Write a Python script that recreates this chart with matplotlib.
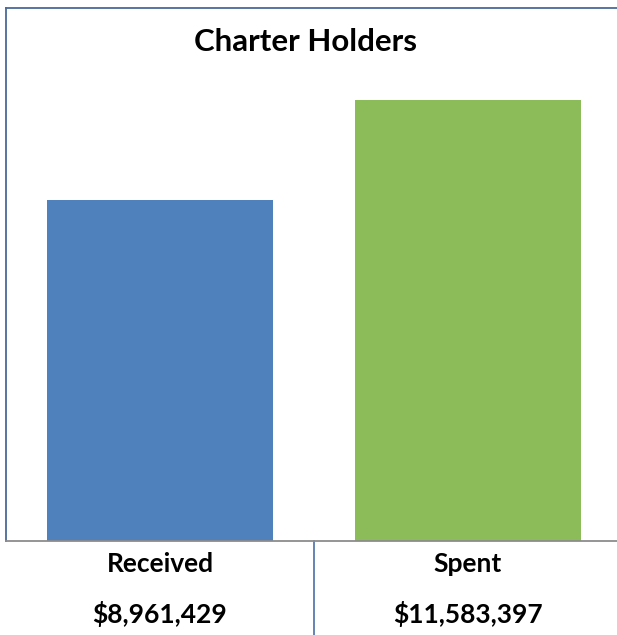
import matplotlib.pyplot as plt
import matplotlib.transforms as mtransforms

categories = ["Received", "Spent"]
amounts = [8961429, 11583397]
amount_labels = ["$8,961,429", "$11,583,397"]
bar_colors = ["#4F81BD", "#8CBB5A"]

plt.rcParams['font.family'] = ['Lato', 'DejaVu Sans']

fig = plt.figure(figsize=(6.17, 6.35), dpi=100)
W, H = 617, 635
# axes box in pixels: left 6, right 622, top 8, bottom 541
ax = fig.add_axes([6 / W, (H - 541) / H, 616 / W, (541 - 8) / H])

x = list(range(len(categories)))
ax.bar(x, amounts, width=0.735, color=bar_colors, zorder=2)
ax.set_xlim(-0.5, 1.5)
ax.set_ylim(0, 14000000)

ax.set_xticks([])
ax.set_yticks([])
ax.spines["right"].set_visible(False)
ax.spines["left"].set_color("#4A6A9A")
ax.spines["top"].set_color("#4A6A9A")
ax.spines["left"].set_linewidth(1.3)
ax.spines["top"].set_linewidth(1.3)
ax.spines["bottom"].set_color("#8C8C8C")
ax.spines["bottom"].set_linewidth(1.3)

ax.text(0.487, 0.937, "Charter Holders", transform=ax.transAxes,
        ha="center", va="center", fontsize=22.5, fontweight="bold")

trans = mtransforms.blended_transform_factory(ax.transData, ax.transAxes)
# divider between categories below the axis
ax.plot([0.5, 0.5], [0, -100 / 533], transform=trans, color="#4A6FA8",
        lw=1.2, clip_on=False)
for i, (cat, lab) in enumerate(zip(categories, amount_labels)):
    ax.text(i, -(564 - 541) / 533, cat, transform=trans, ha="center",
            va="center", fontsize=19, fontweight="bold")
    ax.text(i, -(614 - 541) / 533, lab, transform=trans, ha="center",
            va="center", fontsize=19, fontweight="bold")

fig.savefig("out.png", dpi=100)
